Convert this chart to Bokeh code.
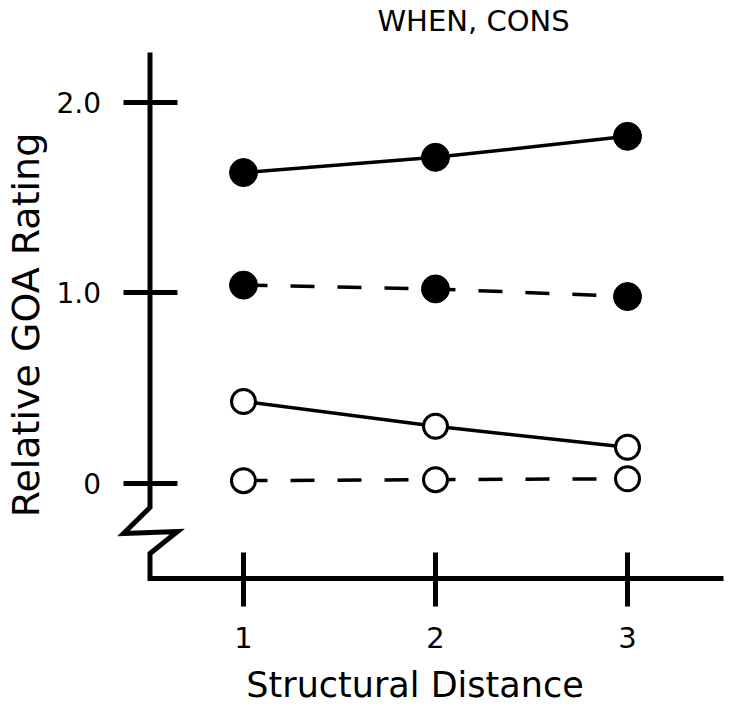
from bokeh.plotting import figure
from bokeh.models import Range1d, FixedTicker, Label
from bokeh.embed import file_html
from bokeh.resources import INLINE

# ---- data ----
distance = [1, 2, 3]
x_ticks = [1, 2, 3]
y_ticks = [0, 1, 2]
y_tick_labels = {0: "0", 1: "1.0", 2: "2.0"}
filled_solid = [1.63, 1.71, 1.82]
filled_dashed = [1.04, 1.02, 0.98]
open_solid = [0.43, 0.30, 0.19]
open_dashed = [0.015, 0.02, 0.025]

W, H = 734, 707
FONT = "DejaVu Sans"

# pixel anchors (layout only): where x=1, x=3 and y=0, y=2 sit on the canvas
px_x1, px_x3 = 243.0, 627.0
px_y0, px_y2 = 483.0, 101.5
sx = (px_x3 - px_x1) / 2.0
sy = (px_y0 - px_y2) / 2.0

def dx(px):
    return 1 + (px - px_x1) / sx

def dy(py):
    return (px_y0 - py) / sy

p = figure(width=W, height=H, output_backend="svg", toolbar_location=None,
           title=None, min_border=0, min_border_left=0, min_border_right=0,
           min_border_top=0, min_border_bottom=0,
           x_range=Range1d(dx(0), dx(W)), y_range=Range1d(dy(H), dy(0)))
p.outline_line_color = None
p.xgrid.visible = False
p.ygrid.visible = False
p.background_fill_color = "white"
p.border_fill_color = "white"

ax_x = dx(149.5)   # y-axis position
ax_y = dy(578.0)   # x-axis position

# axis frame with the broken y axis
path_x = [ax_x, ax_x, dx(123), dx(177), ax_x, ax_x, dx(723)]
path_y = [dy(52), dy(507), dy(533), dy(531), dy(553), ax_y, ax_y]
p.line(path_x, path_y, line_width=5, line_color="black", line_join="miter")

xa = p.xaxis[0]
xa.fixed_location = ax_y
xa.ticker = FixedTicker(ticks=x_ticks)
xa.bounds = (dx(149.5), dx(679))
xa.axis_line_color = None
xa.major_tick_line_width = 5
xa.major_tick_line_color = "black"
xa.major_tick_in = 26
xa.major_tick_out = 28
xa.minor_tick_line_color = None
xa.major_label_text_font = FONT
xa.major_label_text_font_size = "29px"
xa.major_label_text_color = "black"
xa.major_label_standoff = 20
xa.axis_label = "Structural Distance"
xa.axis_label_text_font = FONT
xa.axis_label_text_font_size = "35px"
xa.axis_label_text_font_style = "normal"
xa.axis_label_text_color = "black"
xa.axis_label_standoff = 14

ya = p.yaxis[0]
ya.fixed_location = ax_x
ya.ticker = FixedTicker(ticks=y_ticks)
ya.major_label_overrides = y_tick_labels
ya.bounds = (dy(549), dy(100))
ya.axis_line_color = None
ya.major_tick_line_width = 5
ya.major_tick_line_color = "black"
ya.major_tick_in = 27
ya.major_tick_out = 27
ya.minor_tick_line_color = None
ya.major_label_text_font = FONT
ya.major_label_text_font_size = "28px"
ya.major_label_text_color = "black"
ya.major_label_standoff = 22
ya.axis_label = "Relative GOA Rating"
ya.axis_label_text_font = FONT
ya.axis_label_text_font_size = "38px"
ya.axis_label_text_font_style = "normal"
ya.axis_label_text_color = "black"
ya.axis_label_standoff = 6

# series
p.line(distance, filled_solid, line_width=3.5, line_color="black")
p.line(distance, filled_dashed, line_width=3.5, line_color="black", line_dash="24 23")
p.line(distance, open_solid, line_width=3.5, line_color="black")
p.line(distance, open_dashed, line_width=3.5, line_color="black", line_dash="24 23")

p.scatter(distance, filled_solid, size=28, fill_color="black", line_color="black")
p.scatter(distance, filled_dashed, size=28, fill_color="black", line_color="black")
p.scatter(distance, open_solid, size=24, fill_color="white", line_color="black", line_width=3)
p.scatter(distance, open_dashed, size=24, fill_color="white", line_color="black", line_width=3)

p.add_layout(Label(x=dx(473), y=dy(20), text="WHEN, CONS", text_align="center",
                   text_baseline="middle", text_font=FONT, text_font_size="29px",
                   text_color="black"))

open("out.html", "w").write(file_html(p, INLINE))
